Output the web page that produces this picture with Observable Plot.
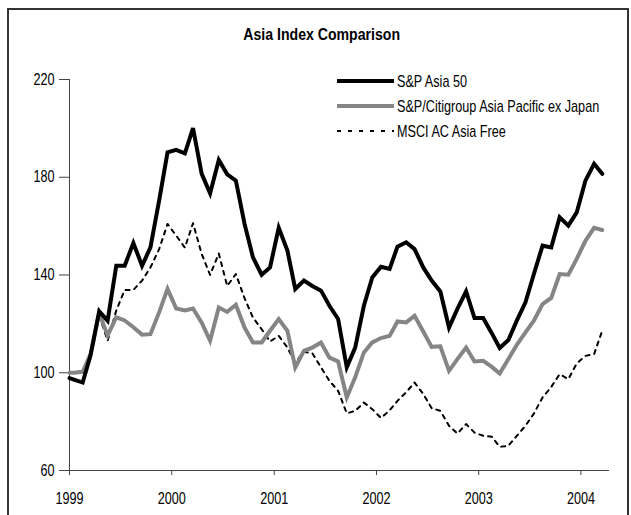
<!DOCTYPE html>
<html>
<head>
<meta charset="utf-8">
<script src="https://cdn.jsdelivr.net/npm/d3@7"></script>
<script src="https://cdn.jsdelivr.net/npm/@observablehq/plot@0.6"></script>
<style>
  html, body { margin: 0; padding: 0; background: #fff; }
  body { width: 631px; height: 515px; overflow: hidden; position: relative;
         font-family: "Liberation Sans", Arial, sans-serif; }
  #frame { position: absolute; left: 7px; top: 8px; width: 622px; height: 560px;
           box-sizing: border-box; border: 2px solid #333; }
  #chart { position: absolute; left: 0; top: 0; }
  #overlay { position: absolute; left: 0; top: 0; }
</style>
</head>
<body>
<div id="frame"></div>
<div id="chart"></div>
<svg id="overlay" width="631" height="150"></svg>
<script>
const chartTitle = "Asia Index Comparison";
const seriesNames = ["S&P Asia 50", "S&P/Citigroup Asia Pacific ex Japan", "MSCI AC Asia Free"];
const yTicks = [60, 100, 140, 180, 220];
const yearTicks = [1999, 2000, 2001, 2002, 2003, 2004];

// observation dates: start of 1999, then one per month Jan 1999 .. Mar 2004
const dates = [new Date(Date.UTC(1999, 0, 1))].concat(d3.range(63).map(k => new Date(Date.UTC(1999, k, 17))));

const sp50 = [97.8, 97.2, 96.0, 107, 125.1, 121.3, 143.8, 143.8, 153.1, 143.8, 151.3, 170.4, 190.2,
  191.2, 189.8, 200.1, 181.4, 173.4, 187.1, 181.2, 178.6, 160.9, 147.2, 140.1, 143.1,
  159.3, 150, 134.3, 137.7, 135.5, 133.6, 127.4, 122, 102.2, 110.3, 127.4, 139,
  143.4, 142.5, 151.6, 153.4, 150.6, 143.1, 137.7, 133.3, 118.5, 126.1, 133.3, 122.4,
  122.4, 116.1, 110.1, 113.4, 121.3, 128.8, 140.4, 152, 151.3, 163.6, 160.2, 165.6,
  178.6, 185.5, 181.4];

const citi = [100, 100, 100.4, 107.6, 124.4, 115.3, 122.7, 121.4, 118.6, 115.6, 115.8, 124.7, 134.3,
  126.3, 125.5, 126.3, 120.5, 113.1, 126.7, 124.9, 127.8, 118.5, 112.4, 112.4, 117.2,
  122, 117.2, 102.2, 109, 110.3, 112.4, 106.2, 104.6, 89.9, 98.1, 108.3, 112.4,
  114.2, 115.1, 121, 120.6, 123.3, 116.9, 110.6, 110.8, 100.8, 105.6, 110.3, 104.6,
  104.9, 102.4, 99.7, 105.6, 111.4, 116.5, 121.3, 128.1, 130.6, 140.4, 140.1, 146.6,
  154, 159.3, 158.4];

const msci = [100, 100, 100.8, 107, 123.5, 113.1, 125.5, 133.9, 133.9, 137.7, 143.1, 150.6, 160.9,
  156.1, 151.2, 161.2, 148.6, 140, 148.8, 135.5, 140.4, 130.5, 122.6, 117.8, 112.8,
  115.1, 110.3, 104.2, 108.6, 108, 102.2, 96.7, 92.6, 83.4, 84.4, 87.8, 85.1,
  81.5, 84.6, 88.5, 92, 96, 91.3, 85.5, 84.4, 78.3, 75.1, 79, 75.5,
  74.2, 73.8, 69.7, 70.1, 74.2, 78.3, 83.3, 89.9, 94.2, 99.4, 97.4, 103.8,
  106.9, 107.6, 117.2];

// ---- build ----
const toRows = (vals, name) => vals.map((v, i) => ({date: dates[i], value: v, series: name}));
const rowsA = toRows(sp50, seriesNames[0]);
const rowsB = toRows(citi, seriesNames[1]);
const rowsC = toRows(msci, seriesNames[2]);

const xStart = new Date(Date.UTC(1999, 0, 1));
const xEnd = new Date(Date.UTC(2004, 3, 12));
const yearDates = yearTicks.map(y => new Date(Date.UTC(y, 0, 1)));
const font = '"Liberation Sans", Arial, sans-serif';
const NARROW = 0.79;

const chart = Plot.plot({
  width: 631,
  height: 515,
  marginLeft: 69,
  marginRight: 22,
  marginTop: 79,
  marginBottom: 45,
  style: {fontFamily: font, fontSize: "16px", color: "#000", background: "transparent", overflow: "visible"},
  x: {type: "utc", domain: [xStart, xEnd], label: null},
  y: {domain: [60, 220], label: null},
  marks: [
    Plot.ruleX([xStart], {y1: 60, y2: 220, stroke: "#444", strokeWidth: 1}),
    Plot.ruleY([60], {x1: xStart, x2: xEnd, stroke: "#444", strokeWidth: 1}),
    Plot.axisY({ticks: yTicks, tickSize: 10, tickPadding: 5, stroke: "#444", fill: "#000", tickFormat: d => String(d)}),
    Plot.axisX({ticks: yearDates, tickSize: 5, tickPadding: 17, stroke: "#444", fill: "#000", tickFormat: d => String(d.getUTCFullYear())}),
    Plot.lineY(rowsC, {x: "date", y: "value", stroke: "#000", strokeWidth: 2, strokeDasharray: "4,5"}),
    Plot.lineY(rowsB, {x: "date", y: "value", stroke: "#858585", strokeWidth: 4, strokeLinejoin: "miter", strokeMiterlimit: 4}),
    Plot.lineY(rowsA, {x: "date", y: "value", stroke: "#000", strokeWidth: 4, strokeLinejoin: "miter", strokeMiterlimit: 4})
  ]
});
document.getElementById("chart").appendChild(chart);

// condense text horizontally (narrow sans look)
function condense(t, s) {
  const x = +t.getAttribute("x") || 0;
  const tr = t.getAttribute("transform") || "";
  t.setAttribute("transform", `${tr} translate(${x},0) scale(${s},1) translate(${-x},0)`);
}
chart.querySelectorAll("text").forEach(t => condense(t, NARROW));

// ---- title and legend ----
const ov = d3.select("#overlay");
const title = ov.append("text").attr("x", 321.7).attr("y", 39.7).attr("text-anchor", "middle")
  .attr("font-family", font).attr("font-size", 17).attr("font-weight", "bold").attr("fill", "#000")
  .text(chartTitle);
condense(title.node(), 0.83);

const legendSpec = [
  {name: seriesNames[0], stroke: "#000", width: 4, dash: null},
  {name: seriesNames[1], stroke: "#858585", width: 4, dash: null},
  {name: seriesNames[2], stroke: "#000", width: 2, dash: "4,7"}
];
legendSpec.forEach((s, i) => {
  const y = 81 + i * 25;
  ov.append("line").attr("x1", 337).attr("x2", 394).attr("y1", y).attr("y2", y)
    .attr("stroke", s.stroke).attr("stroke-width", s.width)
    .attr("stroke-dasharray", s.dash);
  const t = ov.append("text").attr("x", 397).attr("y", y).attr("dy", "0.35em")
    .attr("font-family", font).attr("font-size", 16).attr("fill", "#000").text(s.name);
  condense(t.node(), NARROW);
});
</script>
</body>
</html>
